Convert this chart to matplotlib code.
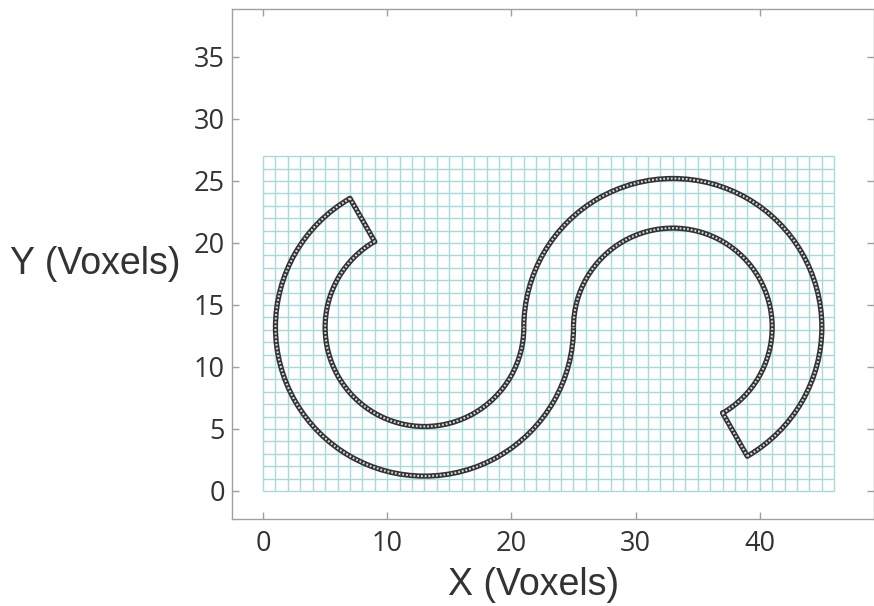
import matplotlib
matplotlib.use("Agg")
import matplotlib.pyplot as plt
from matplotlib.patches import Arc

# grid edges (voxels)
x_edges = list(range(0, 47))
y_edges = list(range(0, 28))

# arcs: centre x, centre y, radius, start deg, end deg
arc_cx = [13, 13, 33, 33]
arc_cy = [13.2, 13.2, 13.2, 13.2]
arc_r = [12, 8, 12, 8]
arc_start = [120, 120, -60, -60]
arc_end = [360, 360, 180, 180]

# straight end caps of the channel
cap_x = [[7, 9], [37, 39]]
cap_y = [[23.6, 20.1], [6.3, 2.8]]

xticks = [0, 10, 20, 30, 40]
yticks = [0, 5, 10, 15, 20, 25, 30, 35]

teal = "#a8dbd7"
gray = "#a0a0a0"
dark = "#333333"
light = "#d8d8d8"

fig = plt.figure(figsize=(8.74, 6.06), dpi=100)
ax = fig.add_axes([232 / 874, 1 - 519 / 606, 642 / 874, 510 / 606])

ax.vlines(x_edges, y_edges[0], y_edges[-1], color=teal, lw=1.0, zorder=1)
ax.hlines(y_edges, x_edges[0], x_edges[-1], color=teal, lw=1.0, zorder=1)

# dark band with pale dots on top gives the chain of tiny squares
for cx, cy, r, a, b in zip(arc_cx, arc_cy, arc_r, arc_start, arc_end):
    ax.add_patch(Arc((cx, cy), 2 * r, 2 * r, theta1=a, theta2=b, color=dark, lw=3.8, zorder=3))
    ax.add_patch(Arc((cx, cy), 2 * r, 2 * r, theta1=a, theta2=b, color=light, lw=1.5,
                     linestyle=(0, (0.9, 0.9)), zorder=4))
for xs, ys in zip(cap_x, cap_y):
    ax.plot(xs, ys, color=dark, lw=3.8, zorder=3, solid_capstyle="round")
    ax.plot(xs, ys, color=light, lw=1.5, ls=(0, (0.9, 0.9)), zorder=4)

ax.set_xlim(-2.5, 49.2)
ax.set_ylim(-2.26, 38.87)
ax.set_xticks(xticks)
ax.set_yticks(yticks)
ax.tick_params(direction="in", length=5, width=1, color=gray, top=True, right=True,
               labelsize=19.5, labelcolor="#333333")
ax.tick_params(axis="x", pad=8)
ax.tick_params(axis="y", pad=5)
for lab in ax.get_xticklabels() + ax.get_yticklabels():
    lab.set_family("Open Sans")
for s in ax.spines.values():
    s.set_color(gray)
    s.set_linewidth(1)

fig.text(534 / 874, 1 - 585 / 606, "X (Voxels)", fontsize=27, family="Liberation Sans",
         color="#333333", ha="center", va="center")
fig.text(95 / 874, 1 - 264 / 606, "Y (Voxels)", fontsize=27, family="Liberation Sans",
         color="#333333", ha="center", va="center")

fig.savefig("out.png", dpi=100)
